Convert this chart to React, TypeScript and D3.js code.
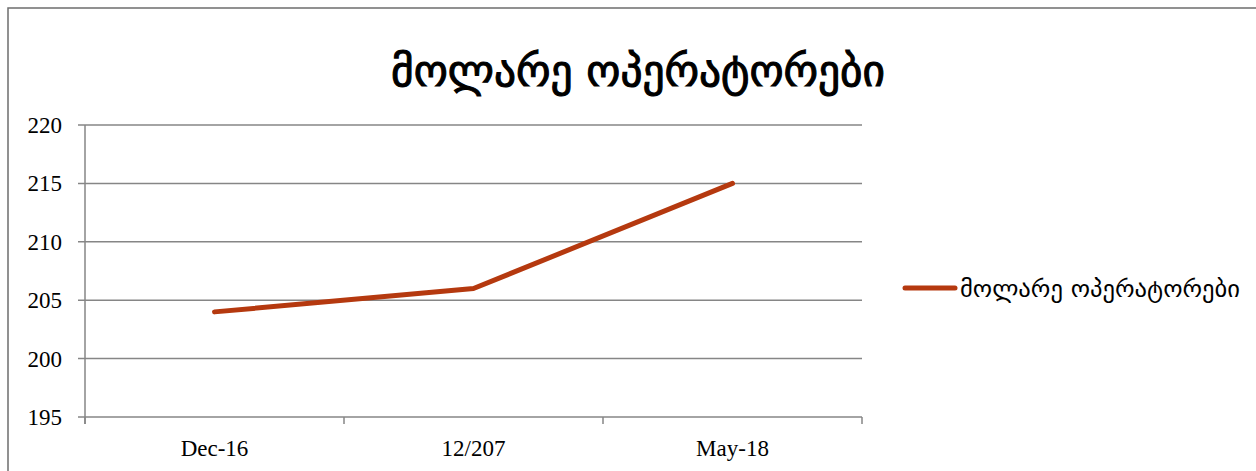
import React, { useEffect, useRef } from 'react';
import * as d3 from 'd3';

const title = 'მოლარე ოპერატორები';
const seriesName = 'მოლარე ოპერატორები';
const categories = ['Dec-16', '12/207', 'May-18'];
const values = [204, 206, 215];
const yTicks = [195, 200, 205, 210, 215, 220];

const W = 1256;
const H = 471;

export default function App() {
  const svgRef = useRef<SVGSVGElement>(null);

  useEffect(() => {
    if (!svgRef.current) return;
    const svg = d3.select(svgRef.current);
    svg.selectAll('*').remove();

    const left = 85, right = 862, top = 125, bottom = 417;
    const serif = '"Liberation Serif", "DejaVu Serif", serif';
    const geo = '"DejaVu Sans", "Noto Sans", sans-serif';

    // chart frame (cut off at right/bottom)
    svg.append('rect')
      .attr('x', 8).attr('y', 8)
      .attr('width', W + 20).attr('height', H + 20)
      .attr('fill', 'white')
      .attr('stroke', '#6e6e6e').attr('stroke-width', 1.5);

    svg.append('text')
      .attr('x', 638).attr('y', 86)
      .attr('text-anchor', 'middle')
      .attr('font-family', geo)
      .attr('font-size', 44)
      .attr('stroke', '#000')
      .attr('stroke-width', 1.1)
      .attr('textLength', 494)
      .attr('lengthAdjust', 'spacingAndGlyphs')
      .attr('fill', '#000')
      .text(title);

    const x = d3.scaleBand().domain(categories).range([left, right]);
    const y = d3.scaleLinear().domain([195, 220]).range([bottom, top]);

    const g = svg.append('g');

    // gridlines
    g.selectAll('.grid')
      .data(yTicks)
      .enter().append('line')
      .attr('x1', left - 7).attr('x2', right)
      .attr('y1', d => y(d)).attr('y2', d => y(d))
      .attr('stroke', '#868686').attr('stroke-width', 1.5);

    // y axis
    g.append('line')
      .attr('x1', left).attr('x2', left)
      .attr('y1', top).attr('y2', bottom + 7)
      .attr('stroke', '#868686').attr('stroke-width', 1.5);

    g.selectAll('.ylab')
      .data(yTicks)
      .enter().append('text')
      .attr('x', 62).attr('y', d => y(d) + 8)
      .attr('text-anchor', 'end')
      .attr('font-family', serif)
      .attr('font-size', 23)
      .attr('fill', '#000')
      .text(d => d);

    // x axis ticks
    const edges = [...categories.map(c => x(c)!), right];
    g.selectAll('.xtick')
      .data(edges)
      .enter().append('line')
      .attr('x1', d => d).attr('x2', d => d)
      .attr('y1', bottom).attr('y2', bottom + 7)
      .attr('stroke', '#868686').attr('stroke-width', 1.5);

    g.selectAll('.xlab')
      .data(categories)
      .enter().append('text')
      .attr('x', d => x(d)! + x.bandwidth() / 2)
      .attr('y', 456)
      .attr('text-anchor', 'middle')
      .attr('font-family', serif)
      .attr('font-size', 23)
      .attr('fill', '#000')
      .text(d => d);

    const line = d3.line<number>()
      .x((_, i) => x(categories[i])! + x.bandwidth() / 2)
      .y(d => y(d));

    g.append('path')
      .datum(values)
      .attr('d', line)
      .attr('fill', 'none')
      .attr('stroke', '#b5390f')
      .attr('stroke-width', 5)
      .attr('stroke-linecap', 'round')
      .attr('stroke-linejoin', 'round');

    // legend
    svg.append('line')
      .attr('x1', 905).attr('x2', 955)
      .attr('y1', 288).attr('y2', 288)
      .attr('stroke', '#b5390f').attr('stroke-width', 5)
      .attr('stroke-linecap', 'round');

    svg.append('text')
      .attr('x', 960).attr('y', 297)
      .attr('font-family', geo)
      .attr('font-size', 23)
      .attr('textLength', 280)
      .attr('lengthAdjust', 'spacingAndGlyphs')
      .attr('fill', '#000')
      .text(seriesName);
  }, []);

  return (
    <svg
      ref={svgRef}
      width={W}
      height={H}
      style={{ position: 'fixed', left: 0, top: 0, background: 'white' }}
    />
  );
}
